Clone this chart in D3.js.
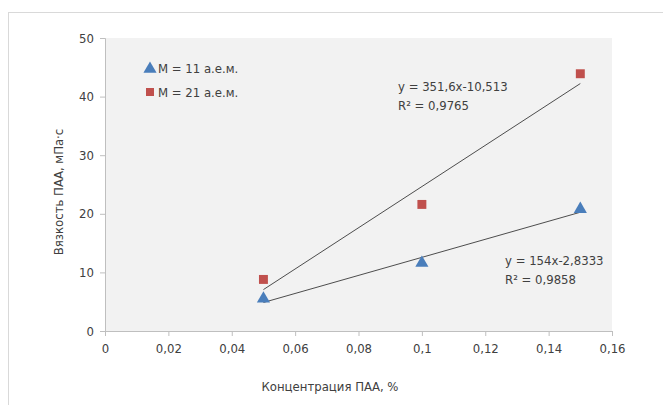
<!DOCTYPE html>
<html><head><meta charset="utf-8">
<script src="https://cdn.jsdelivr.net/npm/d3@7/dist/d3.min.js"></script>
<style>
body{margin:0;background:#fff;}
text{font-family:"DejaVu Sans Condensed","Liberation Sans Narrow",sans-serif;font-stretch:condensed;fill:#404040;}
</style></head><body>
<script>
const xTicks = [0,0.02,0.04,0.06,0.08,0.1,0.12,0.14,0.16];
const yTicks = [0,10,20,30,40,50];
const conc = [0.05,0.1,0.15];
const series11 = [5.5,11.6,20.8];
const series21 = [8.8,21.6,43.9];
const trend11 = {a:154, b:-2.8333, label:"y = 154x-2,8333", r2:"R² = 0,9858"};
const trend21 = {a:351.6, b:-10.513, label:"y = 351,6x-10,513", r2:"R² = 0,9765"};
const legendLabels = ["M = 11 а.е.м.","M = 21 а.е.м."];
const xTitle = "Концентрация ПАА, %";
const yTitle = "Вязкость ПАА, мПа·с";

const W=663,H=405, FS=13;
const FF='"DejaVu Sans Condensed","Liberation Sans Narrow",sans-serif';
const svg=d3.select("body").append("svg").attr("width",W).attr("height",H);
svg.append("rect").attr("x",8.5).attr("y",12.5).attr("width",W).attr("height",H).attr("fill","#fff").attr("stroke","#d9d9d9");
const L=105,R=612,T=38,B=331;
const x=d3.scaleLinear().domain([0,0.16]).range([L,R]);
const y=d3.scaleLinear().domain([0,50]).range([B,T]);
svg.append("rect").attr("x",L).attr("y",T).attr("width",R-L).attr("height",B-T).attr("fill","#f2f2f2");
const fmt=d=>String(d).replace(".",",");
const gx=svg.append("g").attr("transform",`translate(0,${B})`).call(d3.axisBottom(x).tickValues(xTicks).tickFormat(fmt).tickSize(5).tickPadding(8));
const gy=svg.append("g").attr("transform",`translate(${L},0)`).call(d3.axisLeft(y).tickValues(yTicks).tickSize(5).tickPadding(6));
[gx,gy].forEach(g=>{g.selectAll("path,line").attr("stroke","#bfbfbf");g.selectAll("text").attr("font-size",FS).attr("fill","#404040").style("font-family",FF);});
[trend11,trend21].forEach(t=>{
  svg.append("line").attr("x1",x(0.05)).attr("y1",y(t.a*0.05+t.b)).attr("x2",x(0.15)).attr("y2",y(t.a*0.15+t.b)).attr("stroke","#3a3a3a").attr("stroke-width",0.9);
});
const tri=d3.symbol().type(d3.symbolTriangle).size(75);
const sq=d3.symbol().type(d3.symbolSquare).size(80);
svg.selectAll(".s11").data(conc).enter().append("path").attr("d",tri).attr("transform",(d,i)=>`translate(${x(d)},${y(series11[i])})`).attr("fill","#4a7ebb");
svg.selectAll(".s21").data(conc).enter().append("path").attr("d",sq).attr("transform",(d,i)=>`translate(${x(d)},${y(series21[i])})`).attr("fill","#c0504d");
svg.append("path").attr("d",tri).attr("transform","translate(150,69)").attr("fill","#4a7ebb");
svg.append("path").attr("d",d3.symbol().type(d3.symbolSquare).size(64)).attr("transform","translate(150,92)").attr("fill","#c0504d");
legendLabels.forEach((l,i)=>svg.append("text").attr("x",158).attr("y",73+i*24).attr("font-size",FS).text(l));
svg.append("text").attr("x",398).attr("y",91).attr("font-size",FS).text(trend21.label);
svg.append("text").attr("x",398).attr("y",110).attr("font-size",FS).text(trend21.r2);
svg.append("text").attr("x",505).attr("y",265).attr("font-size",FS).text(trend11.label);
svg.append("text").attr("x",505).attr("y",284).attr("font-size",FS).text(trend11.r2);
svg.append("text").attr("x",330).attr("y",391).attr("text-anchor","middle").attr("font-size",FS).text(xTitle);
svg.append("text").attr("transform","translate(63,192) rotate(-90)").attr("text-anchor","middle").attr("font-size",FS).text(yTitle);
</script></body></html>
